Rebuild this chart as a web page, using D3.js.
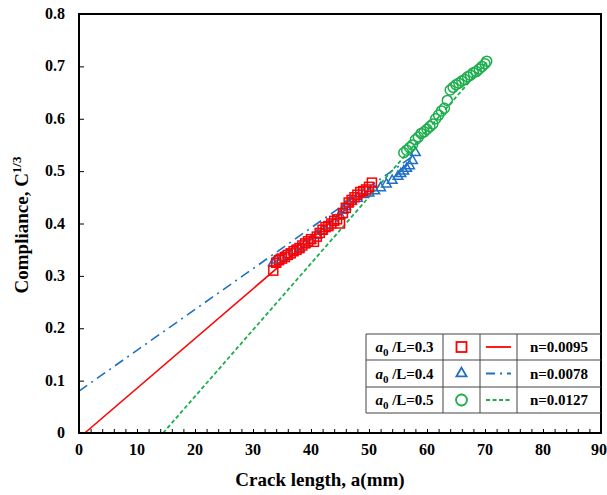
<!DOCTYPE html>
<html>
<head>
<meta charset="utf-8">
<script src="https://cdn.jsdelivr.net/npm/d3@7"></script>
<style>
  body { margin: 0; background: #fff; }
  text { font-family: "Liberation Serif", "Times New Roman", serif; font-weight: bold; }
</style>
</head>
<body>
<svg width="607" height="495"></svg>
<script>
let width = 607;
let height = 495;

// a0/L = 0.3 (red squares)
let redA = [33.5, 34.0, 34.5, 35.0, 35.5, 36.0, 36.5, 37.0, 37.5, 38.0, 38.5, 39.0, 39.5, 40.0, 40.5, 41.0, 41.5, 42.0, 42.5, 43.0, 43.5, 44.0, 44.5, 45.0, 45.5, 46.0, 46.5, 47.0, 47.5, 48.0, 48.5, 49.0, 49.5, 50.0, 50.5];
let redC = [0.310, 0.325, 0.330, 0.333, 0.336, 0.340, 0.343, 0.347, 0.350, 0.353, 0.358, 0.362, 0.366, 0.370, 0.365, 0.375, 0.382, 0.388, 0.393, 0.395, 0.400, 0.405, 0.408, 0.400, 0.420, 0.430, 0.440, 0.445, 0.450, 0.455, 0.460, 0.462, 0.465, 0.470, 0.478];

// a0/L = 0.4 (blue triangles)
let blueA = [33.5, 34, 35, 36, 37, 38, 39, 40, 41, 42, 43, 44, 45, 45.5, 46, 46.5, 47, 48, 49, 50, 51, 52, 53, 54, 55, 55.5, 56, 56.5, 57, 57.5, 58];
let blueC = [0.325, 0.330, 0.335, 0.340, 0.347, 0.352, 0.360, 0.368, 0.377, 0.386, 0.395, 0.405, 0.415, 0.425, 0.432, 0.438, 0.442, 0.448, 0.455, 0.458, 0.462, 0.468, 0.475, 0.482, 0.490, 0.495, 0.500, 0.505, 0.510, 0.520, 0.535];

// a0/L = 0.5 (green circles)
let greenA = [56, 56.5, 57, 57.5, 58, 58.5, 59, 59.5, 60, 60.5, 61, 61.5, 62, 62.5, 63, 63.5, 64, 64.5, 65, 65.5, 66, 66.5, 67, 67.5, 68, 68.5, 69, 69.5, 70, 70.3];
let greenC = [0.535, 0.540, 0.545, 0.550, 0.560, 0.565, 0.572, 0.575, 0.580, 0.585, 0.590, 0.600, 0.607, 0.615, 0.620, 0.635, 0.655, 0.660, 0.665, 0.668, 0.672, 0.675, 0.680, 0.683, 0.688, 0.690, 0.695, 0.700, 0.705, 0.710];

// fitted lines: [a start, C start], [a end, C end]
let redFit = [[1.0, 0], [50.5, 0.470]];
let blueFit = [[0, 0.080], [58, 0.532]];
let greenFit = [[14.5, 0], [70.5, 0.711]];

let legendLabels = ['0.3', '0.4', '0.5'];
let legendN = ['n=0.0095', 'n=0.0078', 'n=0.0127'];

let xTicks = [0, 10, 20, 30, 40, 50, 60, 70, 80, 90];
let yTicks = [0, 0.1, 0.2, 0.3, 0.4, 0.5, 0.6, 0.7, 0.8];

let margin = {left: 79, right: 6, top: 14, bottom: 62};

let x = d3.scaleLinear().domain([0, 90]).range([margin.left, width - margin.right]);
let y = d3.scaleLinear().domain([0, 0.8]).range([height - margin.bottom, margin.top]);

let svg = d3.select('svg');

let colors = {red: '#ff0000', blue: '#1f70c4', green: '#1cae4c'};

// fitted lines
let line = d3.line().x(d => x(d[0])).y(d => y(d[1]));
svg.append('path').attr('d', line(redFit)).attr('stroke', colors.red).attr('stroke-width', 1.6).attr('fill', 'none');
svg.append('path').attr('d', line(blueFit)).attr('stroke', colors.blue).attr('stroke-width', 1.6).attr('fill', 'none')
  .attr('stroke-dasharray', '10,5,2,5');
svg.append('path').attr('d', line(greenFit)).attr('stroke', colors.green).attr('stroke-width', 1.8).attr('fill', 'none')
  .attr('stroke-dasharray', '4,2.5');

// markers
svg.append('g')
  .selectAll('path')
  .data(d3.zip(blueA, blueC))
  .enter()
    .append('path')
    .attr('d', d3.symbol().type(d3.symbolTriangle).size(40))
    .attr('transform', d => `translate(${x(d[0])},${y(d[1])})`)
    .attr('fill', 'none')
    .attr('stroke', colors.blue)
    .attr('stroke-width', 1.5);

svg.append('g')
  .selectAll('rect')
  .data(d3.zip(redA, redC))
  .enter()
    .append('rect')
    .attr('x', d => x(d[0]) - 4.5)
    .attr('y', d => y(d[1]) - 4.5)
    .attr('width', 9)
    .attr('height', 9)
    .attr('fill', 'none')
    .attr('stroke', colors.red)
    .attr('stroke-width', 1.5);

svg.append('g')
  .selectAll('circle')
  .data(d3.zip(greenA, greenC))
  .enter()
    .append('circle')
    .attr('cx', d => x(d[0]))
    .attr('cy', d => y(d[1]))
    .attr('r', 5)
    .attr('fill', 'none')
    .attr('stroke', colors.green)
    .attr('stroke-width', 1.5);

// axes: inside ticks
let xAxis = svg.append('g').attr('transform', `translate(0,${y(0)})`)
  .call(d3.axisBottom(x).tickValues(d3.range(0, 91, 2)).tickSize(-4).tickFormat(''));
xAxis.select('.domain').remove();
xAxis.selectAll('line').attr('stroke', '#000');

let yAxis = svg.append('g').attr('transform', `translate(${x(0)},0)`)
  .call(d3.axisLeft(y).tickValues(yTicks).tickSize(-5).tickFormat(''));
yAxis.select('.domain').remove();
yAxis.selectAll('line').attr('stroke', '#000');

svg.selectAll('.xl')
  .data(xTicks)
  .enter()
    .append('text')
    .attr('x', d => d === 90 ? width : x(d))
    .attr('y', y(0) + 22)
    .attr('text-anchor', d => d === 90 ? 'end' : 'middle')
    .attr('font-size', 16)
    .text(d => d);

svg.selectAll('.yl')
  .data(yTicks)
  .enter()
    .append('text')
    .attr('x', x(0) - 14)
    .attr('y', d => y(d) + 5)
    .attr('text-anchor', 'end')
    .attr('font-size', 16)
    .text(d => d === 0 ? '0' : d3.format('.1f')(d));

// frame
svg.append('rect')
  .attr('x', x(0)).attr('y', y(0.8))
  .attr('width', x(90) - x(0)).attr('height', y(0) - y(0.8))
  .attr('fill', 'none').attr('stroke', '#000').attr('stroke-width', 2);

// axis titles
svg.append('text')
  .attr('x', 320)
  .attr('y', 486)
  .attr('text-anchor', 'middle')
  .attr('font-size', 19)
  .text('Crack length, a(mm)');

let yt = svg.append('text')
  .attr('transform', `translate(28,225) rotate(-90)`)
  .attr('text-anchor', 'middle')
  .attr('font-size', 19);
yt.append('tspan').text('Compliance, C');
yt.append('tspan').attr('dy', -7).attr('font-size', 13).text('1/3');

// legend table
let lx = [366, 443, 480, 517, x(90)];
let ly = [334, 360, 387, 413];
let leg = svg.append('g');
lx.slice(0, 4).forEach(v => leg.append('line').attr('x1', v).attr('x2', v).attr('y1', ly[0]).attr('y2', ly[3]).attr('stroke', '#444').attr('stroke-width', 1));
ly.forEach(v => leg.append('line').attr('x1', lx[0]).attr('x2', lx[4]).attr('y1', v).attr('y2', v).attr('stroke', '#444').attr('stroke-width', 1));

let legColors = [colors.red, colors.blue, colors.green];
legendLabels.forEach((lab, i) => {
  let cy = (ly[i] + ly[i + 1]) / 2;
  let t = leg.append('text').attr('x', (lx[0] + lx[1]) / 2).attr('y', cy + 5).attr('text-anchor', 'middle').attr('font-size', 15);
  t.append('tspan').attr('font-style', 'italic').text('a');
  t.append('tspan').attr('dy', 4).attr('font-size', 11).text('0');
  t.append('tspan').attr('dy', -4).text(' /L=' + lab);

  let mx = (lx[1] + lx[2]) / 2;
  if (i === 0) {
    leg.append('rect').attr('x', mx - 5).attr('y', cy - 5).attr('width', 10).attr('height', 10)
      .attr('fill', 'none').attr('stroke', colors.red).attr('stroke-width', 1.8);
  } else if (i === 1) {
    leg.append('path').attr('d', d3.symbol().type(d3.symbolTriangle).size(45))
      .attr('transform', `translate(${mx},${cy})`)
      .attr('fill', 'none').attr('stroke', colors.blue).attr('stroke-width', 1.8);
  } else {
    leg.append('circle').attr('cx', mx).attr('cy', cy).attr('r', 5.5)
      .attr('fill', 'none').attr('stroke', colors.green).attr('stroke-width', 1.8);
  }

  let ln = leg.append('line').attr('x1', lx[2] + 6).attr('x2', lx[3] - 6).attr('y1', cy).attr('y2', cy)
    .attr('stroke', legColors[i]).attr('stroke-width', 1.8);
  if (i === 1) ln.attr('stroke-dasharray', '9,5,2,5');
  if (i === 2) ln.attr('stroke-dasharray', '4,2.5');

  leg.append('text').attr('x', (lx[3] + lx[4]) / 2).attr('y', cy + 5).attr('text-anchor', 'middle')
    .attr('font-size', 15).text(legendN[i]);
});
</script>
</body>
</html>
